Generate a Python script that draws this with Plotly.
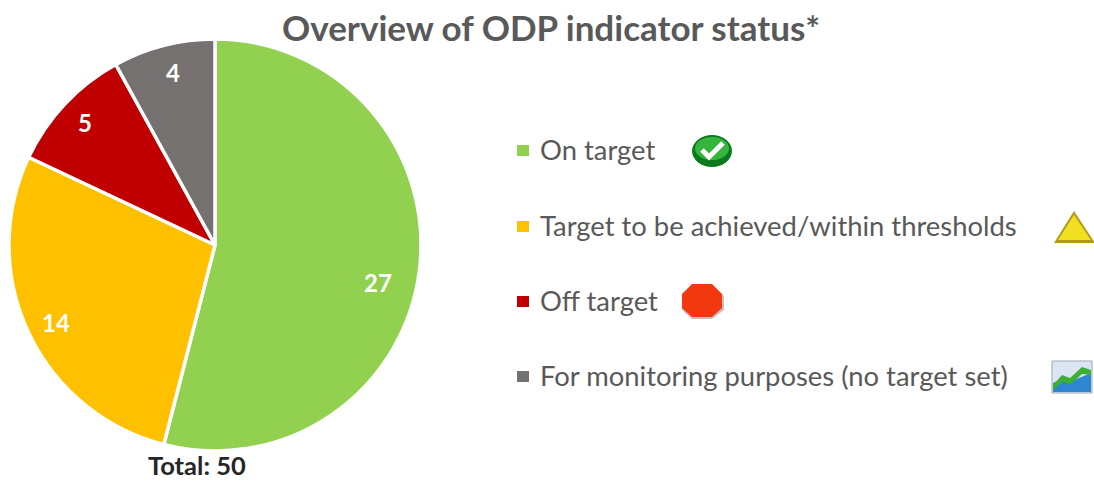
import plotly.graph_objects as go

W, H = 1094, 482
categories = ["On target", "Target to be achieved/within thresholds", "Off target",
              "For monitoring purposes (no target set)"]
values = [27, 14, 5, 4]
colors = ["#92D050", "#FFC000", "#C00000", "#767171"]
title = "Overview of ODP indicator status*"
total_label = "Total: 50"
FONT = "Lato"
GREY = "#595959"


def px(x):
    return x / W


def py(y):
    return 1 - y / H


def rect(x0, y0, x1, y1, fill, line=None, lw=0):
    return dict(type="rect", xref="paper", yref="paper", x0=px(x0), x1=px(x1), y0=py(y0), y1=py(y1),
                fillcolor=fill, line=dict(color=line or fill, width=lw), layer="above")


def ellipse(x0, y0, x1, y1, fill):
    return dict(type="circle", xref="paper", yref="paper", x0=px(x0), x1=px(x1), y0=py(y0), y1=py(y1),
                fillcolor=fill, line=dict(width=0), layer="above")


def poly(points, fill, line=None, lw=0, close=True):
    d = "M " + " L ".join(f"{px(a):.5f} {py(b):.5f}" for a, b in points) + (" Z" if close else "")
    return dict(type="path", xref="paper", yref="paper", path=d,
                fillcolor=fill if close else "rgba(0,0,0,0)",
                line=dict(color=line or fill, width=lw), layer="above")


fig = go.Figure(go.Pie(
    labels=categories, values=values, sort=False, direction="clockwise", rotation=0,
    marker=dict(colors=colors, line=dict(color="white", width=3.5)),
    textinfo="none", hoverinfo="label+value", showlegend=False,
    domain=dict(x=[px(9), px(421)], y=[py(451), py(39)]),
))

annotations = [
    dict(text=f"<b>{title}</b>", x=px(551), y=py(27), font=dict(size=35, color=GREY)),
    dict(text=f"<b>{total_label}</b>", x=px(197), y=py(465), font=dict(size=25.5, color="#262626")),
]
for v, (x, y) in zip(values, [(378, 282), (56, 322), (85, 122), (173, 72)]):
    annotations.append(dict(text=f"<b>{v}</b>", x=px(x), y=py(y), font=dict(size=24, color="white")))

shapes = []
rows = [150, 226, 301, 376]
for cat, col, y in zip(categories, colors, rows):
    shapes.append(rect(517, y - 5, 529, y + 6, col))
    annotations.append(dict(text=cat, x=px(538), y=py(y - 1), xanchor="left",
                            font=dict(size=27.4, color=GREY)))

# status icons
shapes += [
    ellipse(692, 135, 732, 167, "#0B7A1E"),
    ellipse(695, 137, 729, 160, "#35B53B"),
    poly([(702, 150), (709, 157), (723, 143)], "white", "white", 5, close=False),
    poly([(1074, 211), (1095, 243), (1054, 243)], "#B59A1A"),
    poly([(1074, 215), (1091, 240), (1058, 240)], "#F0E020"),
    poly([(692, 286), (712, 286), (724, 296), (724, 310), (712, 319), (692, 319), (682, 310), (682, 296)],
         "#C9C0BC"),
    poly([(692, 284), (712, 284), (722, 294), (722, 308), (712, 317), (692, 317), (682, 308), (682, 294)],
         "#F2380F"),
    rect(1052, 361, 1092, 393, "#DCE6F2", "#9AA8B8", 1),
    poly([(1053, 392), (1053, 383), (1064, 378), (1072, 381), (1091, 373), (1091, 392)], "#2E86D0"),
    poly([(1053, 385), (1062, 375), (1070, 378), (1082, 367), (1091, 370), (1091, 375), (1082, 374),
          (1071, 384), (1062, 382), (1053, 390)], "#3CB034"),
]

fig.update_layout(
    width=W, height=H, margin=dict(l=0, r=0, t=0, b=0), paper_bgcolor="white",
    font=dict(family=FONT), shapes=shapes,
    annotations=[dict(a, xref="paper", yref="paper", showarrow=False, yanchor="middle",
                      **({} if "xanchor" in a else {"xanchor": "center"})) for a in annotations],
)
fig.write_html("out.html", config=dict(displayModeBar=False),
               post_script="document.body.style.margin='0';")
